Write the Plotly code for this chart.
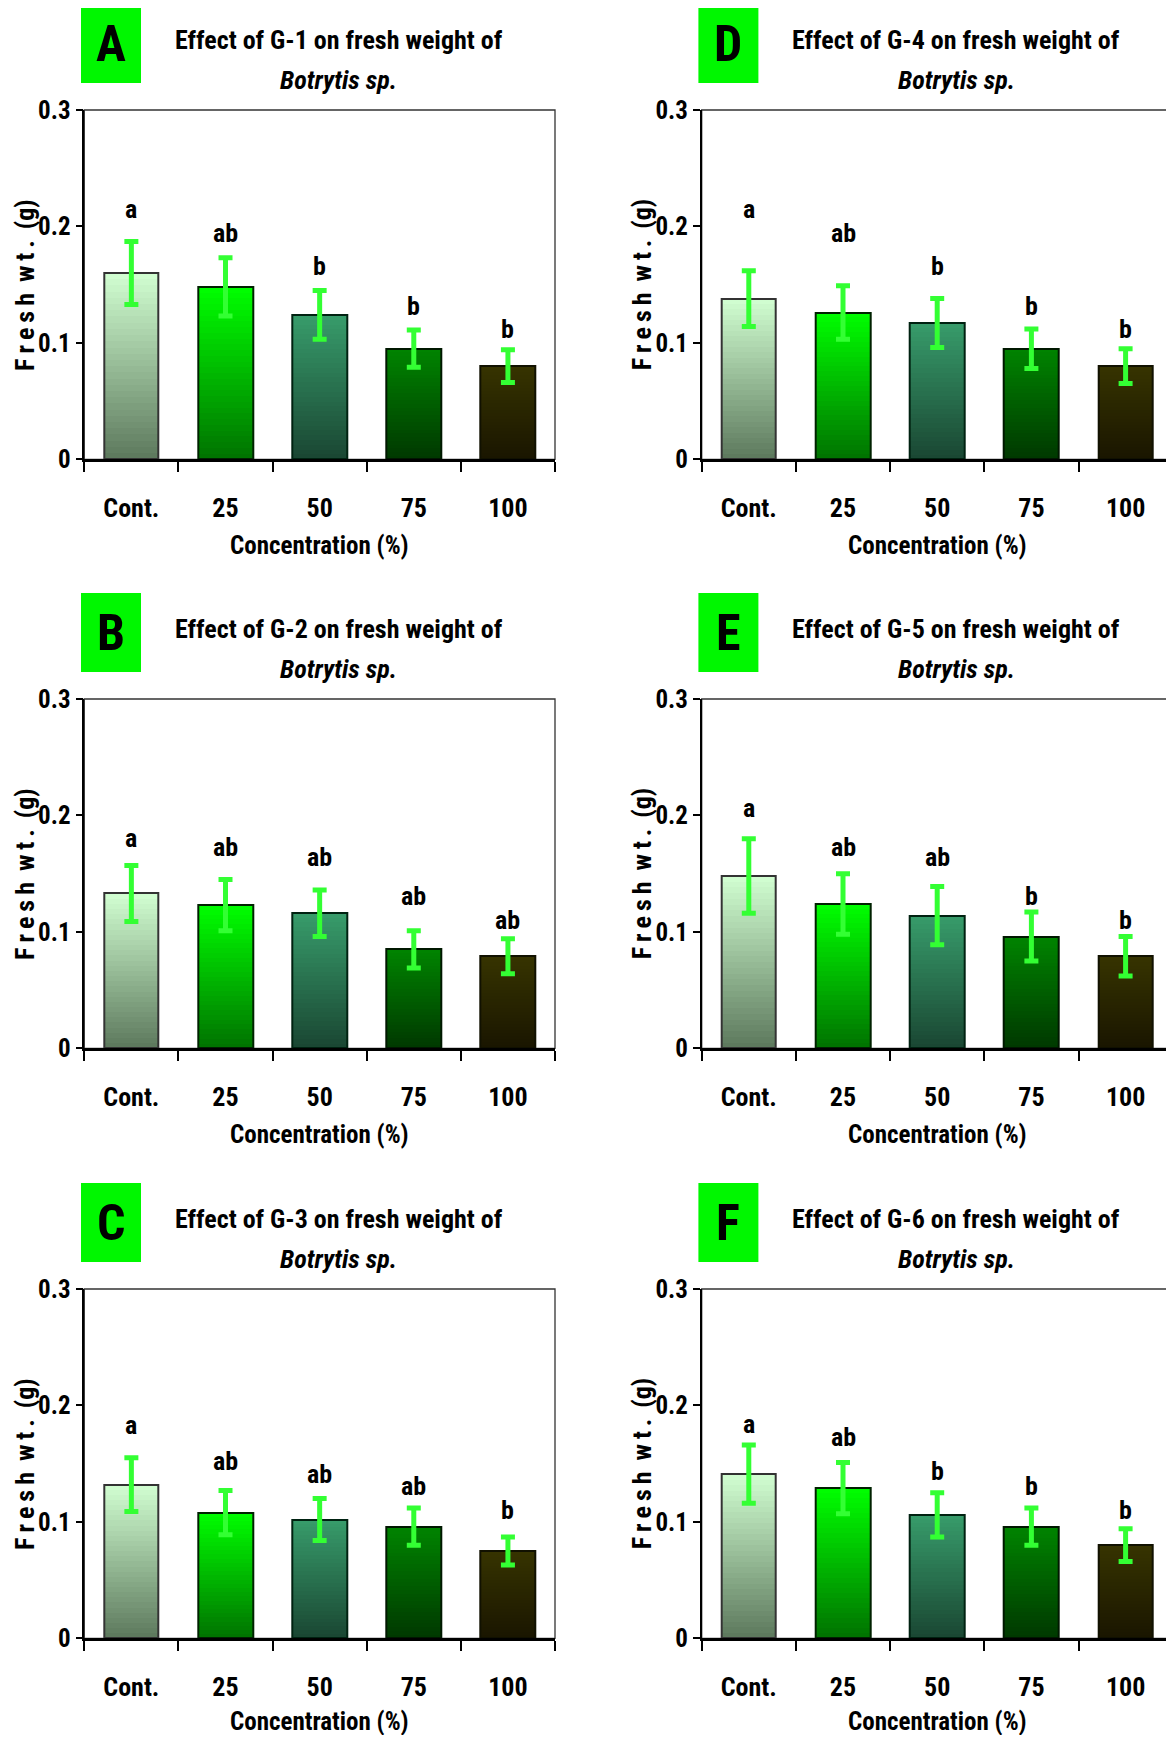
import plotly.graph_objects as go

# ---------------- data ----------------
categories = ["Cont.", "25", "50", "75", "100"]
panel_keys = ["A", "B", "C", "D", "E", "F"]
compounds = {"A": "G-1", "B": "G-2", "C": "G-3", "D": "G-4", "E": "G-5", "F": "G-6"}

means_A = [0.160, 0.148, 0.124, 0.095, 0.080]
means_B = [0.133, 0.123, 0.116, 0.085, 0.079]
means_C = [0.132, 0.108, 0.102, 0.096, 0.075]
means_D = [0.138, 0.126, 0.117, 0.095, 0.080]
means_E = [0.148, 0.124, 0.114, 0.096, 0.079]
means_F = [0.141, 0.129, 0.106, 0.096, 0.080]

err_A = [0.027, 0.025, 0.021, 0.016, 0.014]
err_B = [0.024, 0.022, 0.020, 0.016, 0.015]
err_C = [0.023, 0.019, 0.018, 0.016, 0.012]
err_D = [0.024, 0.023, 0.021, 0.017, 0.015]
err_E = [0.032, 0.026, 0.025, 0.021, 0.017]
err_F = [0.025, 0.022, 0.019, 0.016, 0.014]

letters_A = ["a", "ab", "b", "b", "b"]
letters_B = ["a", "ab", "ab", "ab", "ab"]
letters_C = ["a", "ab", "ab", "ab", "b"]
letters_D = ["a", "ab", "b", "b", "b"]
letters_E = ["a", "ab", "ab", "b", "b"]
letters_F = ["a", "ab", "b", "b", "b"]

# height (in g) at which each significance letter is written
letter_h_A = [0.215, 0.194, 0.166, 0.132, 0.112]
letter_h_B = [0.181, 0.173, 0.164, 0.131, 0.110]
letter_h_C = [0.183, 0.152, 0.141, 0.131, 0.110]
letter_h_D = [0.215, 0.194, 0.166, 0.132, 0.112]
letter_h_E = [0.206, 0.173, 0.164, 0.131, 0.110]
letter_h_F = [0.184, 0.173, 0.144, 0.131, 0.110]

y_tickvals = [0, 0.1, 0.2, 0.3]
y_ticktext = ["0", "0.1", "0.2", "0.3"]

means = dict(A=means_A, B=means_B, C=means_C, D=means_D, E=means_E, F=means_F)
errs = dict(A=err_A, B=err_B, C=err_C, D=err_D, E=err_E, F=err_F)
letters = dict(A=letters_A, B=letters_B, C=letters_C, D=letters_D, E=letters_E, F=letters_F)
letter_h = dict(A=letter_h_A, B=letter_h_B, C=letter_h_C, D=letter_h_D, E=letter_h_E, F=letter_h_F)

# ---------------- styles ----------------
PAGE_OFF = 8            # browser default body margin
W, H = 1174 - PAGE_OFF, 1743 - 2 * PAGE_OFF
FONT = "Roboto Condensed, Open Sans Condensed, Liberation Sans, Arial, sans-serif"
bar_top = ["#d2ffd2", "#00ff00", "#379c6b", "#008400", "#363300"]
bar_bot = ["#5c785c", "#007200", "#1a4632", "#003800", "#1a1600"]
bar_edge = ["#333333", "#002200", "#002211", "#001800", "#111100"]
err_color = "#33ff33"
N_SLICES = 30
BAR_W = 0.58

col_left = [84.3, 701.7]
col_right = [555.0, 1172.7]
row_top = [110.0, 699.0, 1289.0]
row_bot = [459.3, 1048.3, 1638.3]
xtitle_off = [86, 86, 83]


def px_x(p):
    return (p - PAGE_OFF) / W


def px_y(p):
    return 1 - (p - PAGE_OFF) / H


def hex2rgb(h):
    h = h.lstrip("#")
    return [int(h[i:i + 2], 16) for i in (0, 2, 4)]


def mix(c0, c1, t):
    a, b = hex2rgb(c0), hex2rgb(c1)
    return "rgb(%d,%d,%d)" % tuple(round(a[i] + (b[i] - a[i]) * t) for i in range(3))


TS = "\u2009"
YTITLE = TS.join("Fresh") + "\u00a0" + TS + TS.join("wt.") + "\u00a0" + TS + "(g)"

fig = go.Figure()
annotations = []
shapes = []
layout_axes = {}
cat_idx = list(range(len(categories)))

for idx, key in enumerate(panel_keys):
    col, row = idx // 3, idx % 3
    n = idx + 1
    xa = "x" if n == 1 else f"x{n}"
    ya = "y" if n == 1 else f"y{n}"
    vals = means[key]

    for k in range(N_SLICES):
        t = (k + 0.5) / N_SLICES
        fig.add_trace(go.Bar(
            x=categories,
            y=[v * (N_SLICES - k) / N_SLICES for v in vals],
            base=[v * k / N_SLICES for v in vals],
            width=BAR_W,
            marker=dict(color=[mix(bar_bot[i], bar_top[i], t) for i in range(len(vals))],
                        line=dict(width=0)),
            xaxis=xa, yaxis=ya, showlegend=False, hoverinfo="skip"))
    fig.add_trace(go.Bar(
        x=categories, y=vals, width=BAR_W,
        marker=dict(color="rgba(0,0,0,0)", line=dict(color=bar_edge, width=2)),
        xaxis=xa, yaxis=ya, showlegend=False, hoverinfo="skip"))
    fig.add_trace(go.Scatter(
        x=categories, y=vals, mode="markers",
        marker=dict(size=1, color="rgba(0,0,0,0)"),
        error_y=dict(type="data", array=errs[key], color=err_color, thickness=5, width=7),
        xaxis=xa, yaxis=ya, showlegend=False, hoverinfo="skip"))
    for i, lt, lh in zip(cat_idx, letters[key], letter_h[key]):
        annotations.append(dict(
            x=i, y=lh, xref=xa, yref=ya, text=lt, showarrow=False,
            xanchor="center", yanchor="middle",
            font=dict(family=FONT, size=26, color="black", weight="bold")))

    L, R, T, B = col_left[col], col_right[col], row_top[row], row_bot[row]
    layout_axes["xaxis" if n == 1 else f"xaxis{n}"] = dict(
        domain=[px_x(L), min(px_x(R), 1.0)], anchor=ya, type="category",
        categoryorder="array", categoryarray=categories, range=[-0.5, 4.5],
        tickson="boundaries", ticks="outside", ticklen=10, tickwidth=1.5, tickcolor="black",
        showline=True, linecolor="black", linewidth=2.5, showgrid=False, zeroline=False,
        tickfont=dict(family=FONT, size=26, color="black", weight="bold"),
        ticklabelstandoff=24, fixedrange=True, automargin=False)
    layout_axes["yaxis" if n == 1 else f"yaxis{n}"] = dict(
        domain=[px_y(B), px_y(T)], anchor=xa, range=[0, 0.3],
        tickmode="array", tickvals=y_tickvals, ticktext=y_ticktext,
        ticks="outside", ticklen=7, tickwidth=1.5, tickcolor="black",
        showline=True, linecolor="black", linewidth=1.5, showgrid=False, zeroline=False,
        tickfont=dict(family=FONT, size=25, color="black", weight="bold"),
        ticklabelstandoff=0, fixedrange=True, automargin=False)

    shapes.append(dict(type="rect", xref=f"{xa} domain", yref=f"{ya} domain",
                       x0=0, x1=1, y0=0, y1=1, line=dict(color="#333333", width=1.3),
                       layer="below"))
    shapes.append(dict(type="rect", xref="paper", yref="paper",
                       x0=px_x(L - 3.3), x1=px_x(L + 56.7), y0=px_y(T - 27), y1=px_y(T - 106),
                       fillcolor="#00f700", line=dict(width=0), layer="below"))
    annotations.append(dict(
        x=px_x(L + 26.7), y=px_y(T - 66), xref="paper", yref="paper", text=key,
        showarrow=False, xanchor="center", yanchor="middle",
        font=dict(family=FONT, size=50, color="black", weight="bold")))
    annotations.append(dict(
        x=px_x(L + 254.5), y=px_y(T - 70), xref="paper", yref="paper",
        text=f"Effect of {compounds[key]} on fresh weight of", showarrow=False,
        xanchor="center", yanchor="middle",
        font=dict(family=FONT, size=26, color="black", weight="bold")))
    annotations.append(dict(
        x=px_x(L + 254.5), y=px_y(T - 30), xref="paper", yref="paper",
        text="<i>Botrytis sp.</i>", showarrow=False,
        xanchor="center", yanchor="middle",
        font=dict(family=FONT, size=26, color="black", weight="bold")))
    annotations.append(dict(
        x=px_x((L + R) / 2), y=px_y(B + xtitle_off[row]), xref="paper", yref="paper",
        text="Concentration (%)", showarrow=False, xanchor="center", yanchor="middle",
        font=dict(family=FONT, size=25, color="black", weight="bold")))
    annotations.append(dict(
        x=px_x(L - 60), y=px_y((T + B) / 2), xref="paper", yref="paper",
        text=YTITLE, textangle=-90, showarrow=False, xanchor="center", yanchor="middle",
        font=dict(family=FONT, size=26, color="black", weight="bold")))

fig.update_layout(
    width=W, height=H, autosize=False,
    margin=dict(l=0, r=0, t=0, b=0, pad=0, autoexpand=False),
    paper_bgcolor="white", plot_bgcolor="white",
    barmode="overlay", bargap=0,
    showlegend=False,
    annotations=annotations, shapes=shapes,
    **layout_axes)

fig.write_html("out.html")
